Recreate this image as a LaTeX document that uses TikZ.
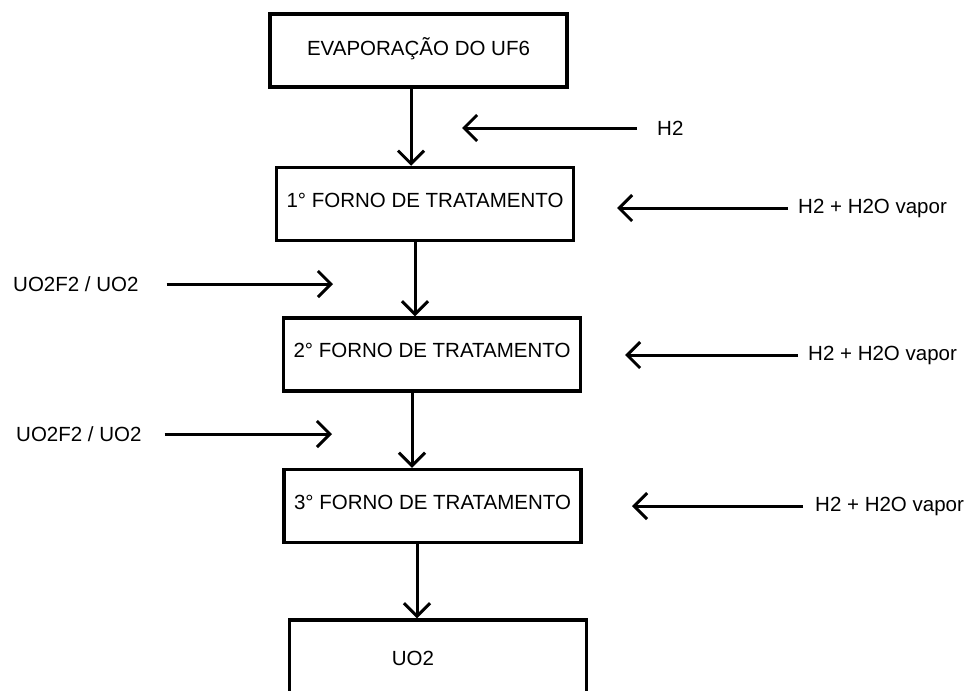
\documentclass[tikz,border=0pt]{standalone}
\usepackage{fontspec}
\setmainfont{Liberation Sans}
\usetikzlibrary{arrows.meta}

\begin{document}
\begin{tikzpicture}[x=1pt,y=-1pt,
  box/.style={draw,line width=3.5pt,minimum width=297pt,minimum height=73pt,inner sep=0pt,text depth=8pt},
  flow/.style={->,line width=3pt},
  >={Straight Barb[length=13pt,width=26pt]},
  every node/.style={font=\fontsize{20.5}{24}\selectfont}]
\useasboundingbox[fill=white] (0,0) rectangle (970,691);
\clip (0,0) rectangle (970,691);
\node[box] (evap) at (418.5,50.5) {EVAPORAÇÃO DO UF6};
\node[box] (forno1) at (425,204) {1° FORNO DE TRATAMENTO};
\node[box] (forno2) at (432,354.5) {2° FORNO DE TRATAMENTO};
\node[box] (forno3) at (432.5,506) {3° FORNO DE TRATAMENTO};
\node[box] (uo2) at (438,656.5) {};
\node (uo2txt) at (413,658) {UO2};
\node[anchor=west,inner sep=2pt] (h2) at (655,128) {H2};
\node[anchor=west,inner sep=2pt] (vap1) at (796,208) {H2 + H2O vapor};
\node[anchor=west,inner sep=2pt] (vap2) at (806,355) {H2 + H2O vapor};
\node[anchor=west,inner sep=2pt] (vap3) at (813,506) {H2 + H2O vapor};
\node[anchor=west,inner sep=2pt] (oxA) at (11,284) {UO2F2 / UO2};
\node[anchor=west,inner sep=2pt] (oxB) at (14,434) {UO2F2 / UO2};
\coordinate (h2tip) at (462,128);
\coordinate (vap1tip) at (617,208);
\coordinate (vap2tip) at (625,355);
\coordinate (vap3tip) at (632,506);
\coordinate (oxAtip) at (333,284);
\coordinate (oxBtip) at (332,434);
\draw[flow] ([xshift=-7.5pt]evap.south) -- ([xshift=-7.5pt]evap.south |- forno1.north);
\draw[flow] ([xshift=-10pt]forno1.south) -- ([xshift=-10pt]forno1.south |- forno2.north);
\draw[flow] ([xshift=-20pt]forno2.south) -- ([xshift=-20pt]forno2.south |- forno3.north);
\draw[flow] ([xshift=-15.5pt]forno3.south) -- ([xshift=-15.5pt]forno3.south |- uo2.north);
\draw[flow,shorten <=18pt] (h2) -- (h2tip);
\draw[flow,shorten <=8pt] (vap1) -- (vap1tip);
\draw[flow,shorten <=8pt] (vap2) -- (vap2tip);
\draw[flow,shorten <=10pt] (vap3) -- (vap3tip);
\draw[flow,shorten <=26pt] (oxA) -- (oxAtip);
\draw[flow,shorten <=21pt] (oxB) -- (oxBtip);
\end{tikzpicture}
\end{document}
